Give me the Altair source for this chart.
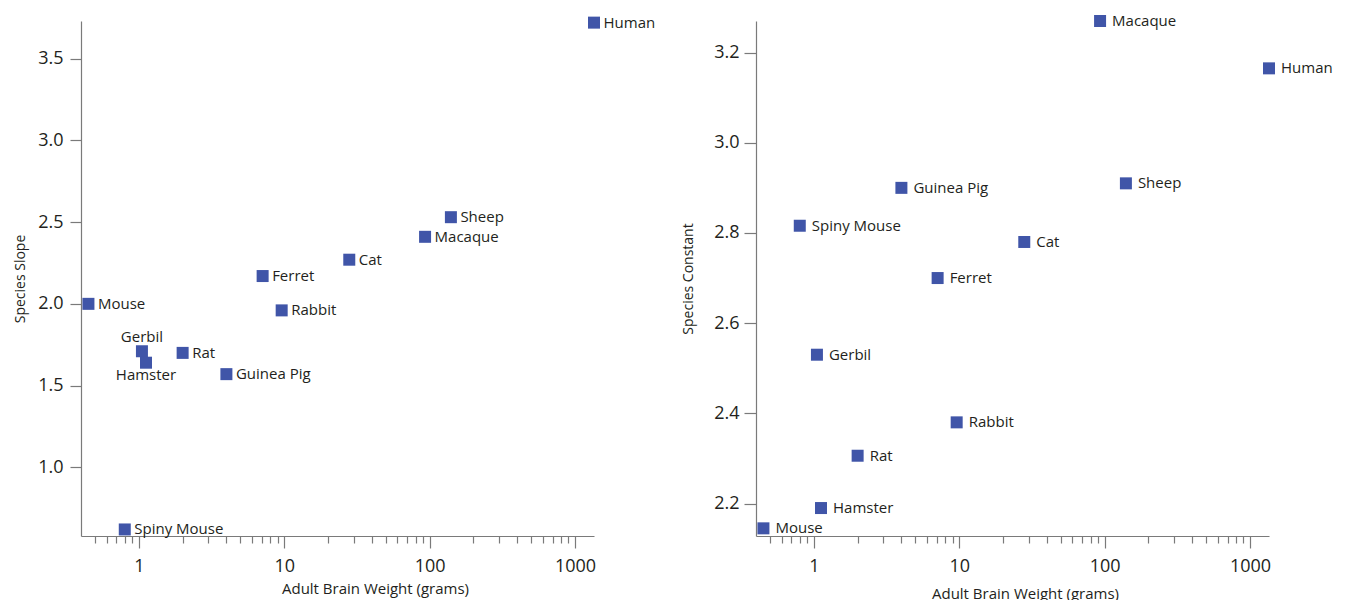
import altair as alt
import pandas as pd

# Species and adult brain weight (grams), shared by both panels
species = ["Mouse", "Spiny Mouse", "Gerbil", "Hamster", "Rat", "Guinea Pig",
           "Ferret", "Rabbit", "Cat", "Macaque", "Sheep", "Human"]
brain_weight = [0.45, 0.80, 1.05, 1.12, 2.0, 4.0, 7.1, 9.6, 28.0, 93.0, 140.0, 1350.0]

# Fitted per-species parameters
species_slope = [2.00, 0.62, 1.71, 1.64, 1.70, 1.57, 2.17, 1.96, 2.27, 2.41, 2.53, 3.72]
species_constant = [2.145, 2.816, 2.53, 2.19, 2.306, 2.90, 2.70, 2.38, 2.78, 3.27, 2.91, 3.165]

# Label placement in the left panel: most to the right, two stacked ones centred
left_label_pos = ["right", "right", "above", "below", "right", "right",
                  "right", "right", "right", "right", "right", "right"]

x_ticks = [0.5, 0.6, 0.7, 0.8, 0.9, 1, 2, 3, 4, 5, 6, 7, 8, 9, 10,
           20, 30, 40, 50, 60, 70, 80, 90, 100,
           200, 300, 400, 500, 600, 700, 800, 900, 1000]
left_y_ticks = [1.0, 1.5, 2.0, 2.5, 3.0, 3.5]
right_y_ticks = [2.2, 2.4, 2.6, 2.8, 3.0, 3.2]

df = pd.DataFrame({
    "species": species,
    "weight": brain_weight,
    "slope": species_slope,
    "constant": species_constant,
    "pos": left_label_pos,
})

FONT = "Open Sans"
TEXT = "#231f20"
AXIS = "#7a7a7a"
BLUE = "#4055a8"
W, H = 513, 515

major = "indexof([1, 10, 100, 1000], datum.value) >= 0"


def x_axis(title_x, title_y):
    return alt.Axis(
        values=x_ticks,
        labelExpr=f"{major} ? format(datum.value, 'd') : ''",
        labelOverlap=False,
        labelFlush=False,
        tickSize={"condition": {"test": major, "value": 12}, "value": 7},
        labelPadding=9,
        labelFontSize=18,
        title="Adult Brain Weight (grams)",
        titleFontSize=15,
        titleFontWeight="normal",
        titleX=title_x,
        titleY=title_y,
        titleAlign="center",
        titleBaseline="middle",
        grid=False,
    )


def y_axis(title, values, tick, pad, title_pad):
    return alt.Axis(
        values=values,
        format=".1f",
        tickSize=tick,
        labelPadding=pad,
        labelFontSize=18,
        title=title,
        titleFontSize=14,
        titleFontWeight="normal",
        titlePadding=title_pad,
        grid=False,
    )


x_scale = alt.Scale(type="log", domain=[0.4, 1350], nice=False)

# ---- left panel: species slope ----
left_base = alt.Chart(df).encode(
    x=alt.X("weight:Q", scale=x_scale, axis=x_axis(294, 52)),
    y=alt.Y("slope:Q", scale=alt.Scale(domain=[0.58, 3.73], nice=False, zero=False),
            axis=y_axis("Species Slope", left_y_ticks, 11, 7, 10)),
)
left_pts = left_base.mark_square(size=144, color=BLUE, opacity=1)
left_right = left_base.transform_filter("datum.pos == 'right'").mark_text(
    align="left", baseline="middle", dx=9.5, font=FONT, fontSize=15, color=TEXT
).encode(text="species:N")
left_above = left_base.transform_filter("datum.pos == 'above'").mark_text(
    align="center", baseline="middle", dy=-14, font=FONT, fontSize=15, color=TEXT
).encode(text="species:N")
left_below = left_base.transform_filter("datum.pos == 'below'").mark_text(
    align="center", baseline="middle", dy=12, font=FONT, fontSize=15, color=TEXT
).encode(text="species:N")
left = alt.layer(left_pts, left_right, left_above, left_below).properties(width=W, height=H)

# ---- right panel: species constant ----
right_base = alt.Chart(df).encode(
    x=alt.X("weight:Q", scale=x_scale, axis=x_axis(269, 57)),
    y=alt.Y("constant:Q", scale=alt.Scale(domain=[2.128, 3.27], nice=False, zero=False),
            axis=y_axis("Species Constant", right_y_ticks, 12, 5, 18)),
)
right_pts = right_base.mark_square(size=144, color=BLUE, opacity=1)
right_txt = right_base.mark_text(
    align="left", baseline="middle", dx=12, font=FONT, fontSize=15, color=TEXT
).encode(text="species:N")
right = alt.layer(right_pts, right_txt).properties(width=W, height=H)

chart = alt.hconcat(left, right, spacing=162, bounds="flush").properties(
    padding={"left": 13, "top": 14, "right": 5, "bottom": 5}
).configure(
    font=FONT,
).configure_view(
    stroke=None,
).configure_axis(
    domainColor=AXIS,
    tickColor=AXIS,
    labelColor=TEXT,
    titleColor=TEXT,
    labelFont=FONT,
    titleFont=FONT,
    domainWidth=1.2,
    tickWidth=1.2,
)

chart.save("out.html", embed_options={"renderer": "svg", "actions": False})
